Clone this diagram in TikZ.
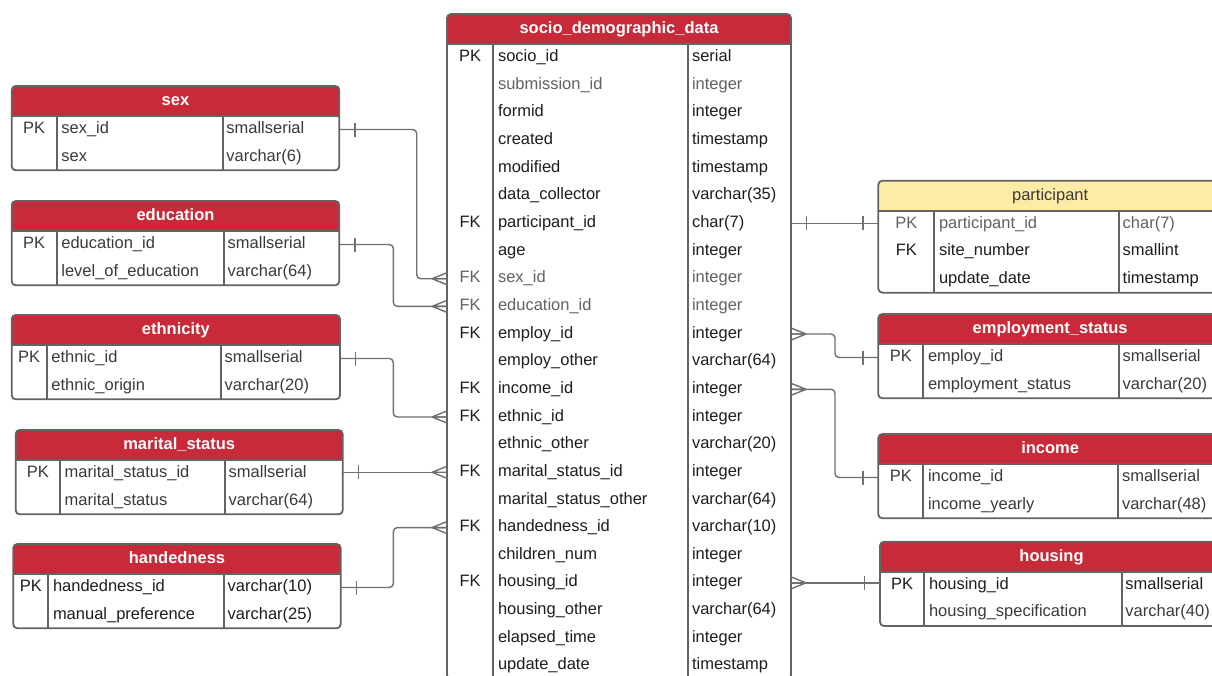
\documentclass[tikz,border=0pt]{standalone}
\usepackage{fontspec}
\setmainfont{Liberation Sans}
\usetikzlibrary{decorations.markings}

\definecolor{hdrred}{HTML}{C82A39}
\definecolor{hdryel}{HTML}{FDEBA6}
\definecolor{tblgrey}{HTML}{636363}
\definecolor{wiregrey}{HTML}{707070}
\definecolor{txtdk}{HTML}{1E1E1E}
\definecolor{txtmd}{HTML}{3A3A3A}
\definecolor{txtlt}{HTML}{626262}

\tikzset{
  basefont/.style={font=\fontsize{16.5pt}{19pt}\selectfont},
  tblline/.style={draw=tblgrey, line width=1.8pt},
  tblbox/.style={tblline, rounded corners=4pt, inner sep=0pt, outer sep=0pt, anchor=north west},
  redhead/.style={fill=hdrred},
  yelhead/.style={fill=hdryel},
  redhead title/.style={font=\fontsize{16.5pt}{19pt}\selectfont\bfseries, text=white},
  yelhead title/.style={basefont, text=txtmd},
  hdrtext/.style={anchor=base, inner sep=0pt},
  celltext/.style={basefont, anchor=base west, inner sep=0pt},
  keytext/.style={basefont, anchor=base, inner sep=0pt},
  dk/.style={text=txtdk},
  md/.style={text=txtmd},
  lt/.style={text=txtlt},
  wireplain/.style={draw=wiregrey, line width=1.4pt},
  wire/.style={wireplain, rounded corners=4pt},
  % crow's foot 15pt out from the start of a connector
  many/.style={postaction={decorate, decoration={markings,
      mark=at position 15pt with {\draw[wireplain] (0pt,0pt) -- (-15pt,6pt) (0pt,0pt) -- (-15pt,0pt) (0pt,0pt) -- (-15pt,-6pt);}}}},
  % single bar near the end of a connector
  one/.style={postaction={decorate, decoration={markings,
      mark=at position -15.5pt with {\draw[wireplain] (0pt,-7pt) -- (0pt,7pt);}}}},
  % single bar near the start of a connector
  onestart/.style={postaction={decorate, decoration={markings,
      mark=at position 15.5pt with {\draw[wireplain] (0pt,-7pt) -- (0pt,7pt);}}}},
}

% \ertable{name}{left}{top}{right}{key|name divider}{name|type divider}{header style}{title}
% rows come from \errows as key/name/type/colour entries
\newcommand\ertable[8]{%
  \pgfmathsetmacro\erHB{#3+30}%
  \foreach \k/\n/\t/\c [count=\i from 0] in \errows {%
    \pgfmathsetmacro\erBL{\erHB+17.6+27.65*\i}%
    \pgfmathsetmacro\erCY{\erHB+13.5+27.65*\i}%
    \node[keytext,\c] (#1-k\i) at ({(#2+#5)/2},\erBL) {\k};
    \node[celltext,\c] (#1-n\i) at (#5+4.5,\erBL) {\n};
    \node[celltext,\c] (#1-t\i) at (#6+3.5,\erBL) {\t};
    \coordinate (#1-\i) at (#2,\erCY);
    \xdef\erN{\the\numexpr\i+1\relax}%
  }%
  \pgfmathsetmacro\erH{30+27.65*\erN-1}%
  \pgfmathsetmacro\erW{#4-#2}%
  \begin{scope}
    \clip[rounded corners=4pt] (#2,#3) rectangle (#4,#3+\erH);
    \fill[#7] (#2,#3) rectangle (#4,\erHB);
  \end{scope}
  \node[tblbox, minimum width=\erW pt, minimum height=\erH pt] (#1) at (#2,#3) {};
  \draw[tblline] (#2,\erHB) -- (#4,\erHB);
  \draw[tblline] (#5,\erHB) -- (#5,#3+\erH);
  \draw[tblline] (#6,\erHB) -- (#6,#3+\erH);
  \node[hdrtext, #7 title] (#1-title) at ({(#2+#4)/2},#3+19.3) {#8};
}

\begin{document}
\begin{tikzpicture}[x=1pt, y=-1pt]
\useasboundingbox (0,0) rectangle (1212,675);
\fill[white] (0,0) rectangle (1212,675);
\clip (0,0) rectangle (1212,675);

% central table
\def\errows{PK/socio\_id/serial/dk, /submission\_id/integer/lt, /formid/integer/dk,
  /created/timestamp/dk, /modified/timestamp/dk, /data\_collector/varchar(35)/dk,
  FK/participant\_id/char(7)/dk, /age/integer/dk, FK/sex\_id/integer/lt,
  FK/education\_id/integer/lt, FK/employ\_id/integer/dk, /employ\_other/varchar(64)/dk,
  FK/income\_id/integer/dk, FK/ethnic\_id/integer/dk, /ethnic\_other/varchar(20)/dk,
  FK/marital\_status\_id/integer/dk, /marital\_status\_other/varchar(64)/dk,
  FK/handedness\_id/varchar(10)/dk, /children\_num/integer/dk, FK/housing\_id/integer/dk,
  /housing\_other/varchar(64)/dk, /elapsed\_time/integer/dk, /update\_date/timestamp/dk}
\ertable{socio}{447}{14}{791}{493.3}{688.3}{redhead}{socio\_demographic\_data}

% lookup tables on the left
\def\errows{PK/sex\_id/smallserial/md, /sex/varchar(6)/md}
\ertable{sex}{11.7}{86}{339.3}{56.7}{222.7}{redhead}{sex}

\def\errows{PK/education\_id/smallserial/md, /level\_of\_education/varchar(64)/md}
\ertable{edu}{11.7}{201}{339.3}{56.7}{224}{redhead}{education}

\def\errows{PK/ethnic\_id/smallserial/md, /ethnic\_origin/varchar(20)/md}
\ertable{eth}{11.7}{315}{340}{46.7}{221}{redhead}{ethnicity}

\def\errows{PK/marital\_status\_id/smallserial/md, /marital\_status/varchar(64)/md}
\ertable{mar}{15.7}{430}{342.7}{60}{225}{redhead}{marital\_status}

\def\errows{PK/handedness\_id/varchar(10)/dk, /manual\_preference/varchar(25)/dk}
\ertable{hand}{13.3}{544}{340.7}{48.3}{224}{redhead}{handedness}

% tables on the right
\def\errows{PK/participant\_id/char(7)/lt, FK/site\_number/smallint/dk, /update\_date/timestamp/dk}
\ertable{part}{878.3}{180.7}{1222}{934.3}{1119}{yelhead}{participant}

\def\errows{PK/employ\_id/smallserial/md, /employment\_status/varchar(20)/md}
\ertable{emp}{878.3}{314}{1222}{923.3}{1119}{redhead}{employment\_status}

\def\errows{PK/income\_id/smallserial/md, /income\_yearly/varchar(48)/md}
\ertable{inc}{878.3}{434}{1222}{923.3}{1118.3}{redhead}{income}

\def\errows{PK/housing\_id/smallserial/dk, /housing\_specification/varchar(40)/md}
\ertable{hou}{880}{541.7}{1223}{924.3}{1121.7}{redhead}{housing}

% routing columns for the bent connectors
\coordinate (bendsex) at (416.7,0);
\coordinate (bendL) at (393.3,0);
\coordinate (bendR) at (835,0);

% left connectors
\draw[wire, many, one] (socio.west |- socio-8) -- (bendsex |- socio-8) -- (bendsex |- sex-0) -- (sex.east |- sex-0);
\draw[wire, many, one] (socio.west |- socio-9) -- (bendL |- socio-9) -- (bendL |- edu-0) -- (edu.east |- edu-0);
\draw[wire, many, one] (socio.west |- socio-13) -- (bendL |- socio-13) -- (bendL |- eth-0) -- (eth.east |- eth-0);
\draw[wire, many, one] (socio.west |- socio-15) -- (mar.east |- socio-15);
\draw[wire, many, one] (socio.west |- socio-17) -- (bendL |- socio-17) -- (bendL |- hand-0) -- (hand.east |- hand-0);

% right connectors
\draw[wire, onestart, one] (socio.east |- socio-6) -- (part.west |- socio-6);
\draw[wire, many, one] (socio.east |- socio-10) -- (bendR |- socio-10) -- (bendR |- emp-0) -- (emp.west |- emp-0);
\draw[wire, many, one] (socio.east |- socio-12) -- (bendR |- socio-12) -- (bendR |- inc-0) -- (inc.west |- inc-0);
\draw[wire, many, one] (socio.east |- socio-19) -- (hou.west |- socio-19);
\end{tikzpicture}
\end{document}
